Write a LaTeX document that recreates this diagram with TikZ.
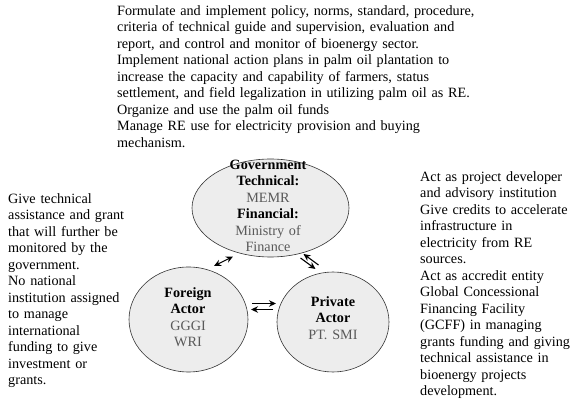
\documentclass[tikz,border=0pt]{standalone}
\usepackage{fontspec}
\setmainfont{Liberation Serif}
\usepackage{xcolor}
\usepackage{tikz}
\usetikzlibrary{positioning, shapes, arrows.meta}

\tikzset{
  actor/.style={draw=black!80, ellipse, fill=black!7, line width=0.6pt, inner sep=0pt},
  actortext/.style={align=center, text width=120pt, inner sep=0pt, anchor=base,
    font=\fontsize{14.2pt}{16.5pt}\selectfont},
  roletext/.style={align=left, inner sep=0pt, anchor=base west,
    font=\fontsize{14.2pt}{16.5pt}\selectfont},
  link/.style={line width=1.1pt, {Stealth[length=7pt,width=6.5pt]}-{Stealth[length=7pt,width=6.5pt]}},
  oneway/.style={line width=1.1pt, -{Stealth[length=7pt,width=6.5pt]}},
}
\newcommand{\actorname}[1]{\textcolor{black!65}{#1}}

\begin{document}
\begin{tikzpicture}[x=1pt, y=-1pt]
    \useasboundingbox (0,0) rectangle (571,403);

    % Actor ellipses
    \node[actor, minimum width=157pt, minimum height=98pt] (gov) at (270.5,208) {};
    \node[actor, minimum width=119pt, minimum height=105pt] (foreign) at (188.5,319.5) {};
    \node[actor, minimum width=112pt, minimum height=100pt] (private) at (333,322) {};

    % Actor names
    \node[actortext] (gov-text) at (268,169.5)
        {\textbf{Government}\\ \textbf{Technical:}\\ \actorname{MEMR}\\
         \textbf{Financial:}\\ \actorname{Ministry of}\\ \actorname{Finance}};
    \node[actortext] (foreign-text) at (188,297.5)
        {\textbf{Foreign}\\ \textbf{Actor}\\ \actorname{GGGI}\\ \actorname{WRI}};
    \node[actortext] (private-text) at (333,306.5)
        {\textbf{Private}\\ \textbf{Actor}\\ \actorname{PT. SMI}};

    % Roles of each actor
    \node[roletext, text width=370pt] (gov-role) at (117,15.5)
        {Formulate and implement policy, norms, standard, procedure,\\
         criteria of technical guide and supervision, evaluation and\\
         report, and control and monitor of bioenergy sector.\\
         Implement national action plans in palm oil plantation to\\
         increase the capacity and capability of farmers, status\\
         settlement, and field legalization in utilizing palm oil as RE.\\
         Organize and use the palm oil funds\\
         Manage RE use for electricity provision and buying\\
         mechanism.};
    \node[roletext, text width=130pt] (foreign-role) at (8,203.5)
        {Give technical\\ assistance and grant\\ that will further be\\
         monitored by the\\ government.\\ No national\\ institution assigned\\
         to manage\\ international\\ funding to give\\ investment or\\ grants.};
    \node[roletext, text width=170pt] (private-role) at (420,181.5)
        {Act as project developer\\ and advisory institution\\
         Give credits to accelerate\\ infrastructure in\\ electricity from RE\\
         sources.\\ Act as accredit entity\\ Global Concessional\\
         Financing Facility\\ (GCFF) in managing\\ grants funding and giving\\
         technical assistance in\\ bioenergy projects\\ development.};

    % Connections between actors
    \coordinate (gf-a) at (214,266);
    \coordinate (gf-b) at (233,256.5);
    \draw[link] (gf-a) -- (gf-b);

    \coordinate (gp-a) at (318.5,265);
    \coordinate (gp-b) at (303.5,254);
    \coordinate (gp-c) at (300.5,258);
    \coordinate (gp-d) at (315.5,269);
    \draw[oneway] (gp-a) -- (gp-b);
    \draw[oneway] (gp-c) -- (gp-d);

    \coordinate (fp-a) at (252,303.5);
    \coordinate (fp-b) at (276,303.5);
    \coordinate (fp-c) at (273,309.5);
    \coordinate (fp-d) at (251,309.5);
    \draw[oneway] (fp-a) -- (fp-b);
    \draw[oneway] (fp-c) -- (fp-d);

\end{tikzpicture}
\end{document}
